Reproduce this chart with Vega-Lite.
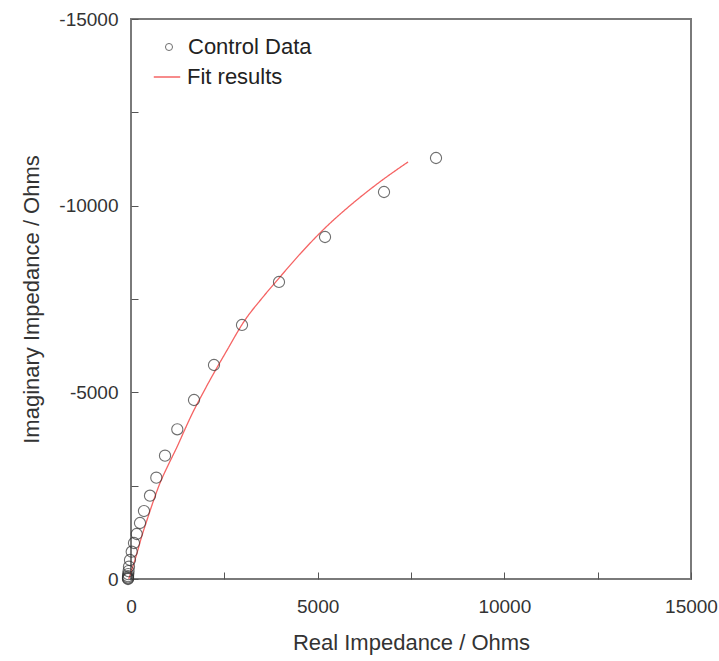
{
  "$schema": "https://vega.github.io/schema/vega-lite/v6.json",
  "width": 560,
  "height": 560,
  "autosize": {"type": "none"},
  "padding": {"left": 131, "top": 19, "right": 28, "bottom": 82},
  "background": "white",
  "config": {
    "font": "Liberation Sans",
    "view": {"stroke": "#7a7a7a", "strokeWidth": 2},
    "axis": {
      "domain": false,
      "grid": false,
      "tickColor": "#555555",
      "tickWidth": 1,
      "tickSize": -7,
      "labelFont": "Liberation Sans",
      "labelFontSize": 19,
      "labelColor": "#333333",
      "titleFont": "Liberation Sans",
      "titleFontSize": 22,
      "titleFontWeight": "normal",
      "titleColor": "#333333"
    },
    "legend": {
      "labelFont": "Liberation Sans",
      "labelFontSize": 22,
      "labelColor": "#222222"
    }
  },
  "datasets": {
    "control": [
      {"re": 8170, "im": -11277},
      {"re": 6777, "im": -10366},
      {"re": 5197, "im": -9161},
      {"re": 3964, "im": -7956},
      {"re": 2973, "im": -6804},
      {"re": 2223, "im": -5732},
      {"re": 1688, "im": -4795},
      {"re": 1240, "im": -4010},
      {"re": 911, "im": -3303},
      {"re": 678, "im": -2714},
      {"re": 509, "im": -2231},
      {"re": 348, "im": -1821},
      {"re": 241, "im": -1500},
      {"re": 153, "im": -1205},
      {"re": 80, "im": -964},
      {"re": 19, "im": -731},
      {"re": -27, "im": -509},
      {"re": -54, "im": -330},
      {"re": -65, "im": -210},
      {"re": -75, "im": -130},
      {"re": -80, "im": -75},
      {"re": -80, "im": -40},
      {"re": -80, "im": -15},
      {"re": -80, "im": 0}
    ],
    "fit": [
      {"re": -60, "im": 0},
      {"re": 40, "im": -300},
      {"re": 161, "im": -696},
      {"re": 290, "im": -1150},
      {"re": 429, "im": -1580},
      {"re": 600, "im": -2090},
      {"re": 777, "im": -2571},
      {"re": 1000, "im": -3060},
      {"re": 1232, "im": -3536},
      {"re": 1440, "im": -4000},
      {"re": 1661, "im": -4473},
      {"re": 1890, "im": -4910},
      {"re": 2116, "im": -5330},
      {"re": 2550, "im": -6090},
      {"re": 3054, "im": -6938},
      {"re": 3500, "im": -7510},
      {"re": 3991, "im": -8090},
      {"re": 4550, "im": -8730},
      {"re": 5143, "im": -9349},
      {"re": 5900, "im": -10030},
      {"re": 6670, "im": -10640},
      {"re": 7420, "im": -11170}
    ]
  },
  "layer": [
    {
      "data": {"name": "fit"},
      "mark": {"type": "line", "color": "#f56464", "strokeWidth": 1.3, "clip": false, "interpolate": "monotone"},
      "encoding": {
        "x": {"field": "re", "type": "quantitative"},
        "y": {"field": "im", "type": "quantitative"},
        "order": {"field": "re", "type": "quantitative"},
        "strokeDash": {
          "datum": "Fit results",
          "type": "nominal",
          "scale": {"domain": ["Fit results"], "range": [[1, 0]]},
          "legend": {
            "title": null,
            "orient": "none",
            "legendX": 22,
            "legendY": 44,
            "symbolType": "stroke",
            "symbolStrokeColor": "#f56464",
            "symbolStrokeWidth": 1.3,
            "symbolSize": 700,
            "labelOffset": 6
          }
        }
      }
    },
    {
      "data": {"name": "control"},
      "mark": {"type": "point", "filled": false, "color": "#333333", "strokeWidth": 1.1, "size": 125, "clip": false},
      "encoding": {
        "x": {
          "field": "re",
          "type": "quantitative",
          "scale": {"domain": [0, 15000], "nice": false, "zero": false},
          "axis": {
            "title": "Real Impedance / Ohms",
            "values": [0, 2500, 5000, 7500, 10000, 12500, 15000],
            "labelExpr": "datum.value % 5000 === 0 ? '' + datum.value : ''",
            "labelPadding": 25,
            "titlePadding": 16,
            "labelFlush": false
          }
        },
        "y": {
          "field": "im",
          "type": "quantitative",
          "scale": {"domain": [0, -15000], "nice": false, "zero": false},
          "axis": {
            "title": "Imaginary Impedance / Ohms",
            "values": [0, -2500, -5000, -7500, -10000, -12500, -15000],
            "labelExpr": "datum.value % 5000 === 0 ? '' + datum.value : ''",
            "labelPadding": 20,
            "titlePadding": 15,
            "labelFlush": false
          }
        },
        "shape": {
          "datum": "Control Data",
          "type": "nominal",
          "scale": {"domain": ["Control Data"], "range": ["circle"]},
          "legend": {
            "title": null,
            "orient": "none",
            "legendX": 27,
            "legendY": 17,
            "symbolStrokeColor": "#333333",
            "symbolFillColor": "transparent",
            "symbolStrokeWidth": 1,
            "symbolSize": 50,
            "labelOffset": 8
          }
        }
      }
    }
  ]
}
